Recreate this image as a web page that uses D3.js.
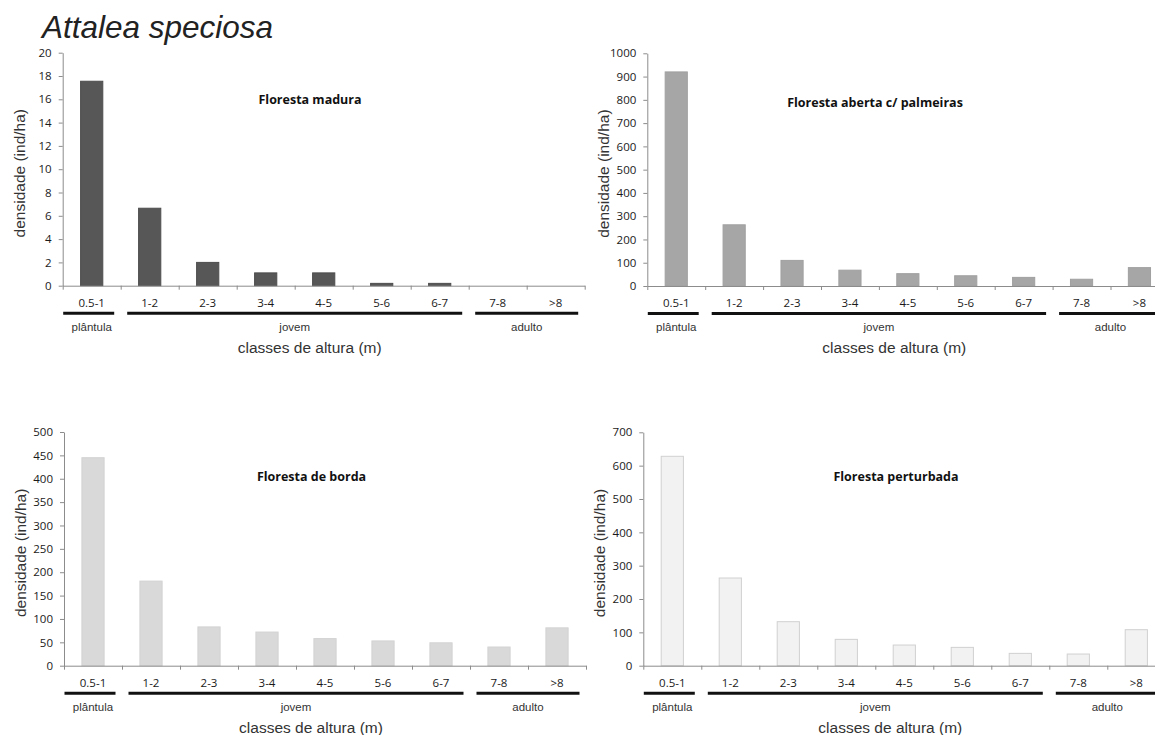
<!DOCTYPE html>
<html>
<head>
<meta charset="utf-8">
<script src="https://cdn.jsdelivr.net/npm/d3@7"></script>
<style>
	body { margin: 0; background: #fff; }
	svg { display: block; }
	.domain, .tick line { stroke: #8c8c8c; }
	.ytick text { font-family: "Open Sans", sans-serif; font-size: 11.5px; fill: #1a1a1a; }
	.cat { font-family: "Open Sans", sans-serif; font-size: 11.5px; fill: #1a1a1a; }
	.grp { font-family: "Liberation Sans", Arial, sans-serif; font-size: 11.5px; fill: #333; }
	.axtitle { font-family: "Liberation Sans", Arial, sans-serif; font-size: 15.5px; fill: #333; }
	.ptitle { font-family: "Open Sans", sans-serif; font-size: 12.5px; font-weight: bold; fill: #111; }
</style>
</head>
<body>
<svg id="chart" width="1155" height="735"></svg>
<script>

// categories (height classes) and life stage groups
const categories = ["0.5-1", "1-2", "2-3", "3-4", "4-5", "5-6", "6-7", "7-8", ">8"];
const groupLabels = ["plântula", "jovem", "adulto"];
const groupStart = [0, 1, 7];
const groupEnd = [1, 7, 9];

// densities (ind/ha) per forest type
const maduraValues = [17.55, 6.65, 2.0, 1.1, 1.1, 0.2, 0.2, 0, 0];
const abertaValues = [920, 263, 110, 68, 53, 44, 37, 29, 79];
const bordaValues = [445, 181, 83, 72, 58, 53, 49, 40, 81];
const perturbadaValues = [628, 263, 132, 79, 62, 55, 37, 35, 108];

const panelTitles = ["Floresta madura", "Floresta aberta c/ palmeiras", "Floresta de borda", "Floresta perturbada"];
const yMax = [20, 1000, 500, 700];
const yStep = [2, 100, 50, 100];

// layout of the four panels (pixels)
const panels = [
	{values: maduraValues, left: 62.7, top: 52.7, bottom: 285.7, band: 58, fill: "#575757", stroke: "#4d4d4d", titleX: 310, titleY: 104},
	{values: abertaValues, left: 647.3, top: 53.3, bottom: 286, band: 57.9, fill: "#a6a6a6", stroke: "#a0a0a0", titleX: 875, titleY: 107},
	{values: bordaValues, left: 64, top: 432, bottom: 665.7, band: 58, fill: "#d9d9d9", stroke: "#d3d3d3", titleX: 311.5, titleY: 481},
	{values: perturbadaValues, left: 643.3, top: 432.3, bottom: 665.7, band: 58, fill: "#f2f2f2", stroke: "#d0d0d0", titleX: 896, titleY: 481}
];

const svg = d3.select("#chart");

svg.append("text")
	.attr("x", 42)
	.attr("y", 38)
	.attr("font-family", "'Liberation Sans', Arial, sans-serif")
	.attr("font-style", "italic")
	.attr("font-size", 31.5)
	.attr("fill", "#222")
	.text("Attalea speciosa");

panels.forEach(function(p, i) {

	const right = p.left + categories.length * p.band;
	const g = svg.append("g");

	const x = d3.scaleBand()
		.domain(categories)
		.range([p.left, right])
		.paddingInner(0.6)
		.paddingOuter(0.3);

	const xEdges = d3.scaleLinear()
		.domain([0, categories.length])
		.range([p.left, right]);

	const y = d3.scaleLinear()
		.domain([0, yMax[i]])
		.range([p.bottom, p.top]);

	// bars
	g.selectAll("rect.bar")
		.data(p.values)
		.join("rect")
		.classed("bar", true)
		.attr("x", function(d, j) { return x(categories[j]) + 0.5; })
		.attr("y", function(d) { return y(d); })
		.attr("width", x.bandwidth() - 1)
		.attr("height", function(d) { return p.bottom - y(d); })
		.attr("fill", p.fill)
		.attr("stroke", p.stroke)
		.attr("stroke-width", function(d) { return d > 0 ? 1 : 0; });

	// y axis
	g.append("g")
		.attr("class", "ytick")
		.attr("transform", "translate(" + p.left + ",0)")
		.call(d3.axisLeft(y)
			.tickValues(d3.range(0, yMax[i] + yStep[i] / 2, yStep[i]))
			.tickFormat(d3.format("d"))
			.tickSize(4)
			.tickSizeOuter(0)
			.tickPadding(7));

	// x axis, ticks between the classes
	g.append("g")
		.attr("transform", "translate(0," + p.bottom + ")")
		.call(d3.axisBottom(xEdges)
			.tickValues(d3.range(0, categories.length + 1))
			.tickFormat("")
			.tickSize(4)
			.tickSizeOuter(0));

	g.selectAll("text.cat")
		.data(categories)
		.join("text")
		.classed("cat", true)
		.attr("x", function(d) { return x(d) + x.bandwidth() / 2; })
		.attr("y", p.bottom + 21)
		.attr("text-anchor", "middle")
		.text(function(d) { return d; });

	// life stage brackets
	groupLabels.forEach(function(label, k) {
		const x0 = k === 0 ? xEdges(groupStart[k]) + 0.5 : xEdges(groupStart[k]) + 6.5;
		const x1 = xEdges(groupEnd[k]) - 6.5;
		g.append("line")
			.attr("x1", x0)
			.attr("x2", x1)
			.attr("y1", p.bottom + 27.5)
			.attr("y2", p.bottom + 27.5)
			.attr("stroke", "#111")
			.attr("stroke-width", 3);
		g.append("text")
			.classed("grp", true)
			.attr("x", (xEdges(groupStart[k]) + xEdges(groupEnd[k])) / 2)
			.attr("y", p.bottom + 45)
			.attr("text-anchor", "middle")
			.text(label);
	});

	g.append("text")
		.classed("axtitle", true)
		.attr("x", p.left + 247)
		.attr("y", p.bottom + 67)
		.attr("text-anchor", "middle")
		.text("classes de altura (m)");

	g.append("text")
		.classed("axtitle", true)
		.attr("transform", "translate(" + (p.left - 38) + "," + ((p.top + p.bottom) / 2 + 4) + ") rotate(-90)")
		.attr("text-anchor", "middle")
		.text("densidade (ind/ha)");

	g.append("text")
		.classed("ptitle", true)
		.attr("x", p.titleX)
		.attr("y", p.titleY)
		.attr("text-anchor", "middle")
		.text(panelTitles[i]);
});

</script>
</body>
</html>
